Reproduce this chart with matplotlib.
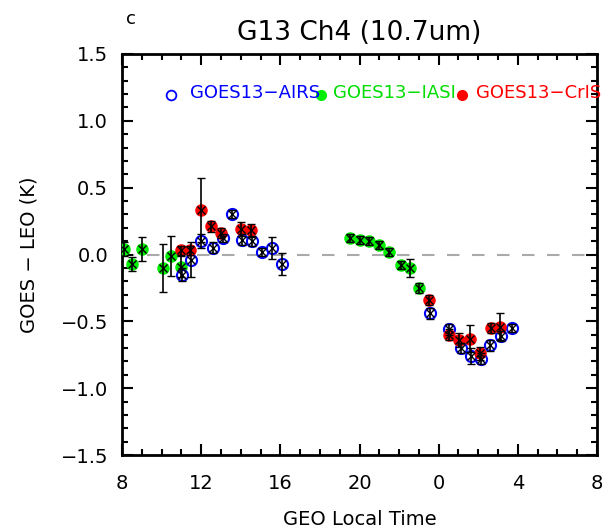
import matplotlib
matplotlib.use("Agg")
import matplotlib.pyplot as plt
from matplotlib.ticker import MultipleLocator

# ---- data ----
green_x = [8.1, 8.5, 9.0, 10.05, 10.5, 11.0, 19.5, 20.0, 20.5, 21.0, 21.5, 22.1, 22.55, 23.0]
green_y = [0.04, -0.07, 0.04, -0.10, -0.01, -0.09, 0.12, 0.11, 0.10, 0.07, 0.02, -0.08, -0.10, -0.25]
green_e = [0.05, 0.05, 0.09, 0.18, 0.15, 0.08, 0.03, 0.03, 0.03, 0.03, 0.03, 0.03, 0.07, 0.04]

blue_x = [11.05, 11.5, 12.0, 12.6, 13.1, 13.55, 14.05, 14.55, 15.05, 15.6, 16.1,
          23.55, 24.5, 25.15, 25.65, 26.15, 26.6, 27.15, 27.7]
blue_y = [-0.15, -0.04, 0.10, 0.05, 0.12, 0.30, 0.11, 0.10, 0.02, 0.05, -0.07,
          -0.44, -0.56, -0.70, -0.76, -0.78, -0.68, -0.61, -0.55]
blue_e = [0.05, 0.13, 0.05, 0.04, 0.03, 0.03, 0.04, 0.04, 0.03, 0.08, 0.08,
          0.04, 0.04, 0.04, 0.06, 0.04, 0.04, 0.04, 0.03]

red_x = [11.0, 11.45, 12.0, 12.5, 13.0, 14.0, 14.5, 23.5, 24.5, 25.05, 25.6, 26.1, 26.65, 27.1]
red_y = [0.03, 0.03, 0.33, 0.21, 0.16, 0.19, 0.18, -0.34, -0.60, -0.64, -0.63, -0.74, -0.55, -0.54]
red_e = [0.03, 0.03, 0.24, 0.04, 0.04, 0.05, 0.05, 0.04, 0.04, 0.05, 0.10, 0.05, 0.04, 0.10]

xticks = [8, 12, 16, 20, 24, 28, 32]
xticklabels = ["8", "12", "16", "20", "0", "4", "8"]
yticks = [-1.5, -1.0, -0.5, 0.0, 0.5, 1.0, 1.5]
yticklabels = ["\u22121.5", "\u22121.0", "\u22120.5", "0.0", "0.5", "1.0", "1.5"]

legend_names = ["GOES13\u2212AIRS", "GOES13\u2212IASI", "GOES13\u2212CrIS"]
legend_x = [10.5, 18.05, 25.2]
legend_y = 1.19

fig = plt.figure(figsize=(6.15, 5.32), dpi=100)
ax = fig.add_axes([0.1984, 0.1447, 0.7724, 0.7538])

ax.axhline(0, color="#aaaaaa", lw=1.5, dashes=(6, 6), zorder=1)

def draw(xs, ys, es, color, filled):
    if filled:
        ax.plot(xs, ys, "o", ms=8, mfc=color, mec=color, ls="none", zorder=3)
    else:
        ax.plot(xs, ys, "o", ms=8, mfc="white", mec=color, mew=1.5, ls="none", zorder=3)
    ax.errorbar(xs, ys, yerr=es, fmt="none", ecolor="black", elinewidth=1.2,
                capsize=3, capthick=1, zorder=4)
    ax.plot(xs, ys, "x", ms=6, color="black", mew=1, ls="none", zorder=5)

draw(green_x, green_y, green_e, "#00ee00", True)
draw(blue_x, blue_y, blue_e, "#0000ff", False)
draw(red_x, red_y, red_e, "#ff0000", True)

# legend-like annotations
ax.plot(legend_x[0], legend_y, "o", ms=7, mfc="white", mec="#0000ff", mew=1.3, clip_on=False, zorder=6)
ax.plot(legend_x[1], legend_y, "o", ms=7, color="#00ee00", clip_on=False, zorder=6)
ax.plot(legend_x[2], legend_y, "o", ms=7, color="#ff0000", clip_on=False, zorder=6)
text_x = [11.43, 18.66, 25.88]
for xl, name, c in zip(text_x, legend_names, ["#0000ff", "#00dd00", "#ff0000"]):
    ax.text(xl, legend_y + 0.02, name, color=c, fontsize=13, va="center", ha="left",
            clip_on=False, zorder=6)

ax.set_xlim(8, 32)
ax.set_ylim(-1.5, 1.5)
ax.set_xticks(xticks)
ax.set_xticklabels(xticklabels)
ax.set_yticks(yticks)
ax.set_yticklabels(yticklabels)
ax.xaxis.set_minor_locator(MultipleLocator(1))
ax.yaxis.set_minor_locator(MultipleLocator(0.1))
ax.tick_params(which="both", direction="in", top=True, right=True, width=1.5, labelsize=14)
ax.tick_params(which="major", length=8)
ax.tick_params(which="minor", length=4)
ax.tick_params(axis="x", pad=14)
ax.tick_params(axis="y", pad=10)
for s in ax.spines.values():
    s.set_linewidth(2)

ax.set_xlabel("GEO Local Time", fontsize=14, labelpad=12)
ax.set_ylabel("GOES \u2212 LEO (K)", fontsize=14, labelpad=16)
ax.set_title("G13 Ch4 (10.7um)", fontsize=19, pad=10)
fig.text(0.205, 0.965, "c", fontsize=13, ha="left", va="center")

fig.savefig("out.png", dpi=100)
